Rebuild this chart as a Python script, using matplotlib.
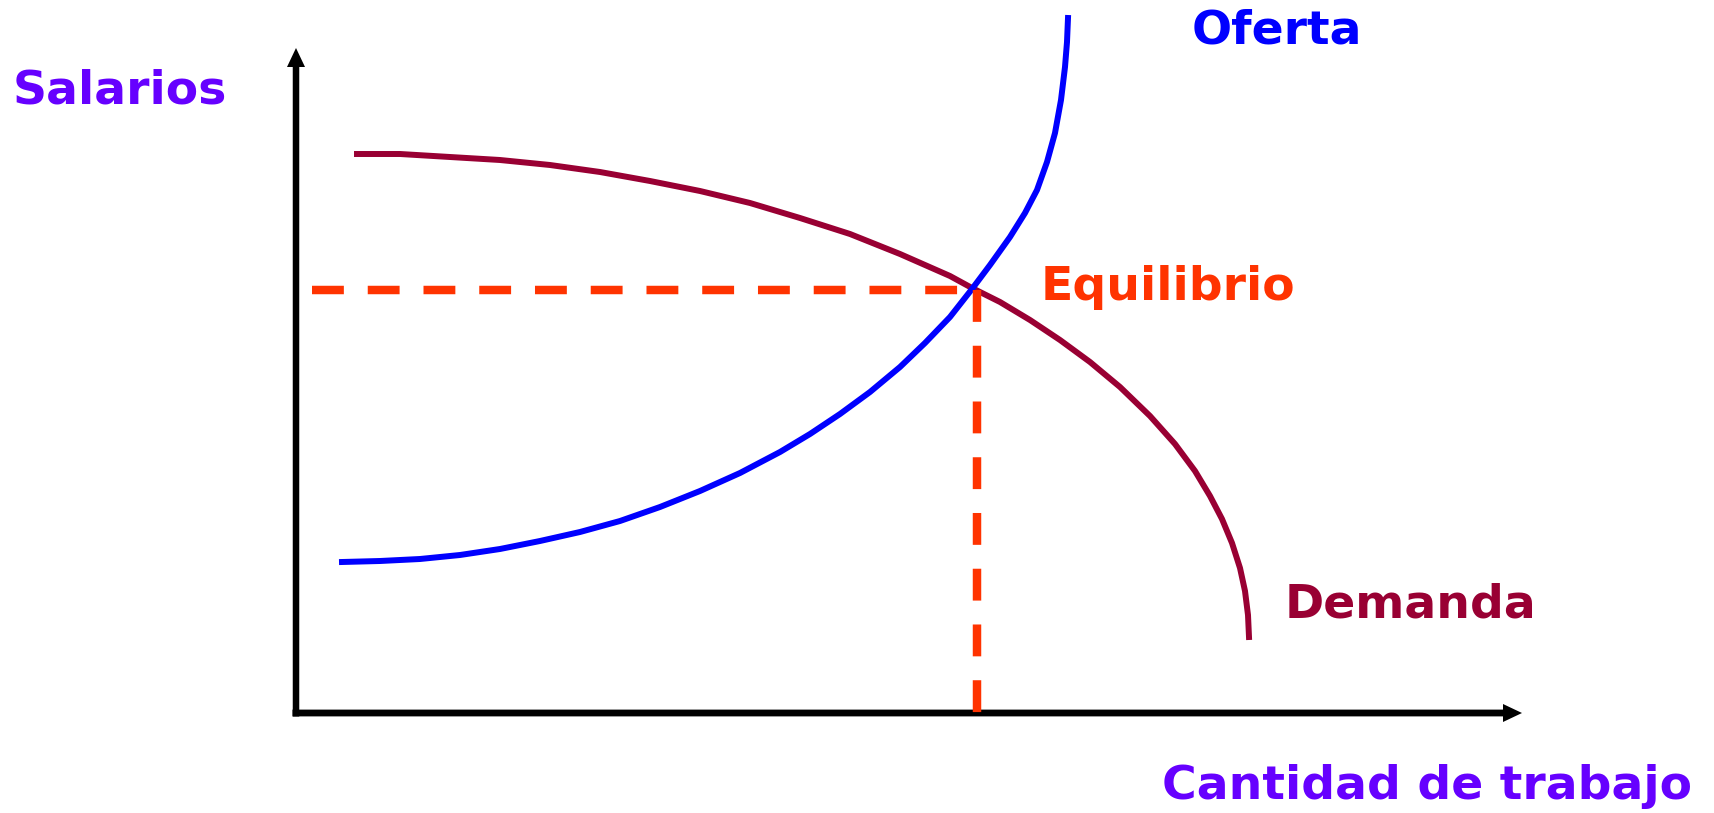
#labour market: supply and demand of work with the equilibrium point
import matplotlib
matplotlib.use("Agg")
import matplotlib.pyplot as plt

#demand curve (quantity, wage)
demand_q = [0.61, 1.04, 1.54, 2.04, 2.54, 3.04, 3.54, 4.04, 4.54, 5.04, 5.54, 6.04, 6.54, 6.76,
            7.04, 7.34, 7.64, 7.94, 8.24, 8.54, 8.79, 8.99, 9.14, 9.26, 9.36, 9.44, 9.49, 9.52, 9.53]
demand_w = [5.59, 5.59, 5.56, 5.53, 5.48, 5.41, 5.32, 5.22, 5.10, 4.95, 4.79, 4.59, 4.37, 4.25,
            4.11, 3.93, 3.73, 3.51, 3.26, 2.97, 2.69, 2.42, 2.17, 1.94, 1.70, 1.45, 1.22, 0.98, 0.76]

#supply curve
supply_q = [0.46, 0.84, 1.24, 1.64, 2.04, 2.44, 2.84, 3.24, 3.64, 4.04, 4.44, 4.84, 5.14, 5.44, 5.74,
            6.04, 6.29, 6.54, 6.76, 6.94, 7.14, 7.29, 7.41, 7.51, 7.59, 7.65, 7.69, 7.71, 7.72]
supply_w = [1.51, 1.52, 1.54, 1.58, 1.64, 1.72, 1.81, 1.92, 2.06, 2.22, 2.40, 2.61, 2.79, 2.99, 3.21,
            3.46, 3.70, 3.96, 4.24, 4.48, 4.76, 5.00, 5.23, 5.51, 5.80, 6.13, 6.46, 6.71, 6.95]

#equilibrium point (dashed guides)
eq_q = 6.81
eq_w = 4.23

x_label = "Cantidad de trabajo"
y_label = "Salarios"

fig = plt.figure(figsize=(17.15, 8.13), dpi=100)
ax = fig.add_axes([0, 0, 1, 1])
ax.set_xlim(-2.96, 14.19)
ax.set_ylim(-1.0, 7.13)
ax.axis("off")

#axes with arrows (same scale on x and y, so one set of sizes works)
ax.arrow(-0.035, 0, 12.295, 0, width=0.068, head_width=0.18, head_length=0.19,
         length_includes_head=True, fc="black", ec="none")
ax.arrow(0, -0.035, 0, 6.685, width=0.065, head_width=0.18, head_length=0.19,
         length_includes_head=True, fc="black", ec="none")

#curves
ax.plot(demand_q, demand_w, color="#990033", lw=4.3, solid_joinstyle="round")
ax.plot(supply_q, supply_w, color="#0000FF", lw=4.3, solid_joinstyle="round")

#dashed guides to the equilibrium
ax.plot([0.16, eq_q], [eq_w, eq_w], color="#FF3300", lw=6.1, dashes=(3.76, 2.82))
ax.plot([eq_q, eq_q], [eq_w, 0], color="#FF3300", lw=6.1, dashes=(3.76, 2.82))

#labels
font = dict(fontsize=34, fontweight="bold", family="DejaVu Sans", va="baseline", ha="left")
ax.text(-2.83, 6.09, y_label, color="#6600FF", **font)
ax.text(8.66, -0.86, x_label, color="#6600FF", **font)
ax.text(8.96, 6.69, "Oferta", color="#0000FF", **font)
ax.text(7.45, 4.13, "Equilibrio", color="#FF3300", **font)
ax.text(9.89, 0.96, "Demanda", color="#990033", **font)

plt.savefig("out.png", dpi=100)
